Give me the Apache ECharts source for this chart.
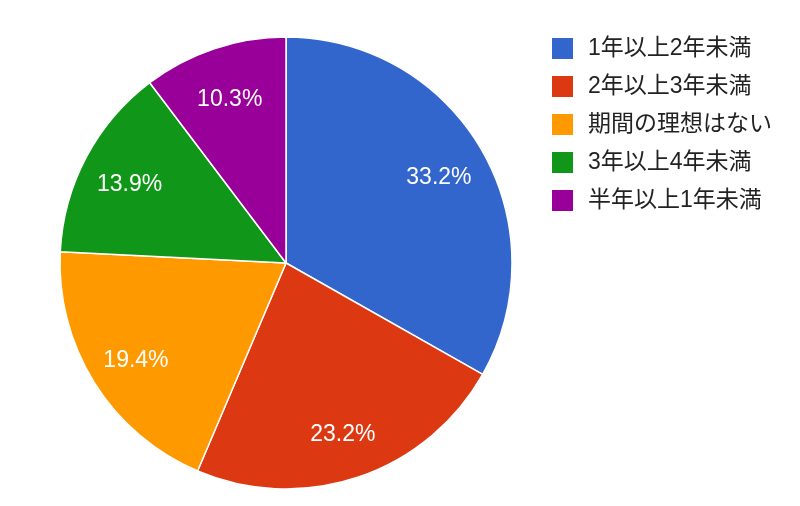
<!DOCTYPE html>
<html><head><meta charset="utf-8">
<script src="https://cdn.jsdelivr.net/npm/echarts@6/dist/echarts.min.js"></script>
<style>html,body{margin:0;padding:0;background:#fff}#c{width:800px;height:506px}</style>
</head><body><div id="c"></div>
<script>
const categories = ['1年以上2年未満','2年以上3年未満','期間の理想はない','3年以上4年未満','半年以上1年未満'];
const values = [33.2, 23.2, 19.4, 13.9, 10.3];
const colors = ['#3366cc','#dc3912','#ff9900','#109618','#990099'];
const font = '"Liberation Sans", Arial, "Noto Sans CJK JP", sans-serif';
const data = categories.map((n,i)=>({name:n, value:values[i]}));
const chart = echarts.init(document.getElementById('c'));
chart.setOption({
  animation:false,
  color: colors,
  legend:{
    orient:'vertical', left:545, top:31,
    itemWidth:23, itemHeight:23, itemGap:13,
    icon:'rect',
    data: categories,
    textStyle:{fontSize:23, color:'#222', fontFamily:font, padding:[0,0,0,9]}
  },
  series:[
    {type:'pie', center:[286,263], radius:[0,226], startAngle:90, clockwise:true,
     data:data, label:{show:false}, labelLine:{show:false},
     itemStyle:{borderColor:'#fff', borderWidth:1.5}, emphasis:{disabled:true}},
    {type:'pie', center:[286,267], radius:[162,186], startAngle:90, clockwise:true, silent:true,
     data:data, itemStyle:{color:'transparent', borderWidth:0},
     label:{show:true, position:'inside', color:'#fff', fontSize:23, fontFamily:font,
       formatter:p=>p.value.toFixed(1)+'%'},
     labelLine:{show:false}, emphasis:{disabled:true}}
  ]
});
</script></body></html>
